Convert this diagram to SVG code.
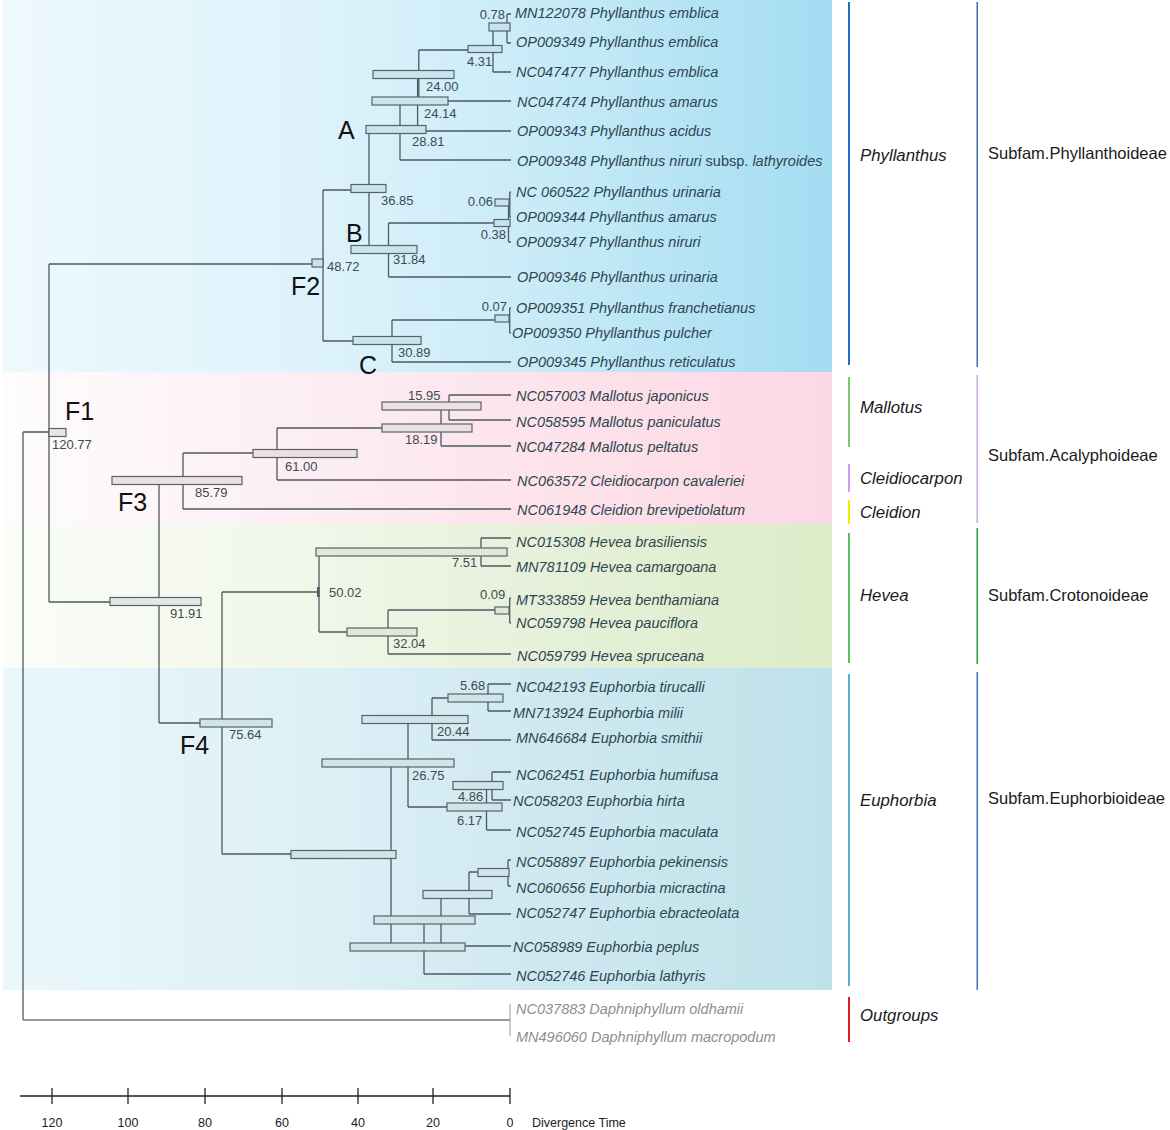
<svg xmlns="http://www.w3.org/2000/svg" width="1170" height="1130" viewBox="0 0 1170 1130">
<defs>
<linearGradient id="gPhy" x1="0" y1="0" x2="1" y2="0"><stop offset="0" stop-color="#eef9fd"/><stop offset="0.4" stop-color="#dcf2fb"/><stop offset="0.65" stop-color="#c8ebf7"/><stop offset="1" stop-color="#a4dcf2"/></linearGradient>
<linearGradient id="gAca" x1="0" y1="0" x2="1" y2="0"><stop offset="0" stop-color="#fefcfd"/><stop offset="0.4" stop-color="#fcedf2"/><stop offset="0.65" stop-color="#fde3eb"/><stop offset="1" stop-color="#fcd8e4"/></linearGradient>
<linearGradient id="gHev" x1="0" y1="0" x2="1" y2="0"><stop offset="0" stop-color="#fbfdf8"/><stop offset="0.4" stop-color="#f0f6e8"/><stop offset="0.65" stop-color="#e6f0da"/><stop offset="1" stop-color="#dcecc8"/></linearGradient>
<linearGradient id="gEup" x1="0" y1="0" x2="1" y2="0"><stop offset="0" stop-color="#eaf7fb"/><stop offset="0.4" stop-color="#dcf0f6"/><stop offset="0.65" stop-color="#cfe8f0"/><stop offset="1" stop-color="#bfe2ea"/></linearGradient>
</defs>
<style>
.br{fill:none;stroke:#4d5a60;stroke-width:1.3}
.bx{stroke:#56646a;stroke-width:1.2}
.bp{fill:#c8e4ee}.bk{fill:#eddfe4}.bg{fill:#e6e6e6}.bh{fill:#e0e8d6}.be{fill:#d0e4ea}
.tip{font-family:"Liberation Sans",Arial,sans-serif;font-size:14.5px;font-style:italic;fill:#2e4650}
.og{fill:#8e8e8e}
.age{font-family:"Liberation Sans",Arial,sans-serif;font-size:13px;fill:#3e4a50}
.big{font-family:"Liberation Sans",Arial,sans-serif;font-size:25px;fill:#111}
.gen{font-family:"Liberation Sans",Arial,sans-serif;font-size:16.8px;font-style:italic;fill:#1a1a1a}
.sub{font-family:"Liberation Sans",Arial,sans-serif;font-size:16.5px;fill:#1a1a1a}
.ax{font-family:"Liberation Sans",Arial,sans-serif;font-size:12.5px;fill:#222}
.up{font-style:normal}
</style>
<rect width="1170" height="1130" fill="#ffffff"/>
<g id="bands">
<rect x="3" y="0" width="829" height="372" fill="url(#gPhy)"/>
<rect x="3" y="372" width="829" height="152" fill="url(#gAca)"/>
<rect x="3" y="524" width="829" height="144" fill="url(#gHev)"/>
<rect x="3" y="668" width="829" height="322" fill="url(#gEup)"/>
</g>
<g id="connectors">
<path class="br" d="M23 432V1020M23 432H49"/>
<path d="M23 1020H510" fill="none" stroke="#777" stroke-width="1.3"/>
<path d="M510 1004V1036" fill="none" stroke="#aaa" stroke-width="1.2"/>
<path class="br" d="M49 264V602M49 264H323M49 602H159"/>
<path class="br" d="M323 190V341M323 190H369M323 341H392"/>
<path class="br" d="M369 131V249.5M369 131H400M369 249.5H388.5"/>
<path class="br" d="M400 103V160M400 103H418M400 160H511"/>
<path class="br" d="M417.6 75V131M417.6 131H511"/>
<path class="br" d="M418.8 50V101M418.8 50H493M418.8 101H511"/>
<path class="br" d="M493 28V72M493 28H507M493 72H511"/>
<path class="br" d="M507 14V43M507 14H511M507 43H511"/>
<path class="br" d="M388.5 223V277M388.5 223H508.5M388.5 277H511"/>
<path class="br" d="M508.5 204V242M508.5 242H511M508.5 204H509.8"/>
<path class="br" d="M509.8 192V217M509.8 192H511M509.8 217H511"/>
<path class="br" d="M392 320V362M392 320H509.7M392 362H511"/>
<path class="br" d="M509.7 308V333M509.7 308H511M509.7 333H511"/>
<path class="br" d="M159 481V723M159 481H183M159 723H222"/>
<path class="br" d="M183 453V509M183 453H277M183 509H511"/>
<path class="br" d="M277 428V480M277 428H441M277 480H511"/>
<path class="br" d="M441 407.5V446M441 407.5H449M441 446H511"/>
<path class="br" d="M449 395V420M449 395H511M449 420H511"/>
<path class="br" d="M222 592V854M222 592H319M222 854H391"/>
<path class="br" d="M319 552V632M319 552H481M319 632H388"/>
<path class="br" d="M481 538V566M481 538H511M481 566H511"/>
<path class="br" d="M388 610V654M388 610H509.7M388 654H511"/>
<path class="br" d="M509.7 598V623M509.7 598H511M509.7 623H511"/>
<path class="br" d="M391 763V947M391 763H408M391 947H424"/>
<path class="br" d="M408 719V807M408 719H432M408 807H486.5"/>
<path class="br" d="M432 698V740M432 698H488M432 740H511"/>
<path class="br" d="M488 684V711M488 684H511M488 711H511"/>
<path class="br" d="M486.5 786V830M486.5 786H492M486.5 830H511"/>
<path class="br" d="M492 772V800M492 772H511M492 800H511"/>
<path class="br" d="M424 920V974M424 920H441M424 974H511"/>
<path class="br" d="M441 893V946M441 893H469M441 946H511"/>
<path class="br" d="M469 872V914M469 872H508M469 914H511"/>
<path class="br" d="M508 860V886M508 860H511M508 886H511"/>
</g>
<g id="node-F1"><rect class="bx bg" x="49" y="428.5" width="17" height="8"/><text class="age" x="52" y="449">120.77</text><text class="big" x="65" y="420">F1</text></g>
<g id="node-F2"><rect class="bx bp" x="312" y="259" width="11" height="8"/><text class="age" x="327" y="271">48.72</text><text class="big" x="291" y="295">F2</text></g>
<g id="node-3685"><rect class="bx bp" x="351" y="184.5" width="35" height="8"/><text class="age" x="381" y="205">36.85</text></g>
<g id="node-A"><rect class="bx bp" x="366" y="125.5" width="60" height="8"/><text class="age" x="412" y="146">28.81</text><text class="big" x="338" y="139">A</text></g>
<g id="node-2414"><rect class="bx bp" x="372" y="97" width="76" height="8"/><text class="age" x="424" y="118">24.14</text></g>
<g id="node-2400"><rect class="bx bp" x="373" y="70.5" width="81" height="8"/><text class="age" x="426" y="91">24.00</text></g>
<g id="node-431"><rect class="bx bp" x="468" y="45.5" width="34" height="7"/><text class="age" x="467" y="66">4.31</text></g>
<g id="node-078"><rect class="bx bp" x="489" y="23" width="21" height="8"/><text class="age" x="505" y="19" text-anchor="end">0.78</text></g>
<g id="node-B"><rect class="bx bp" x="351" y="245.5" width="66" height="8"/><text class="age" x="393" y="264">31.84</text><text class="big" x="346" y="242">B</text></g>
<g id="node-038"><rect class="bx bp" x="494" y="219.5" width="16" height="7"/><text class="age" x="506" y="239" text-anchor="end">0.38</text></g>
<g id="node-006"><rect class="bx bp" x="495" y="199" width="14" height="7"/><text class="age" x="493" y="206" text-anchor="end">0.06</text></g>
<g id="node-C"><rect class="bx bp" x="353" y="336.5" width="68" height="8"/><text class="age" x="398" y="357">30.89</text><text class="big" x="359" y="374">C</text></g>
<g id="node-007"><rect class="bx bp" x="495" y="315" width="14" height="7"/><text class="age" x="507" y="311" text-anchor="end">0.07</text></g>
<g id="node-9191"><rect class="bx bg" x="110" y="597.5" width="91" height="8"/><text class="age" x="170" y="618">91.91</text></g>
<g id="node-F3"><rect class="bx bk" x="112" y="476.5" width="130" height="8"/><text class="age" x="195" y="497">85.79</text><text class="big" x="118" y="511">F3</text></g>
<g id="node-6100"><rect class="bx bk" x="253" y="449.5" width="104" height="8"/><text class="age" x="285" y="471">61.00</text></g>
<g id="node-1819"><rect class="bx bk" x="382" y="424" width="90" height="8"/><text class="age" x="405" y="444">18.19</text></g>
<g id="node-1595"><rect class="bx bk" x="382" y="402" width="99" height="8"/><text class="age" x="408" y="400">15.95</text></g>
<g id="node-F4"><rect class="bx be" x="200" y="719" width="72" height="8"/><text class="age" x="229" y="739">75.64</text><text class="big" x="180" y="754">F4</text></g>
<g id="node-5002"><rect x="317" y="587" width="2.5" height="10" fill="#4d5a60"/><text class="age" x="329" y="597">50.02</text></g>
<g id="node-751"><rect class="bx bh" x="316" y="548" width="191" height="8"/><text class="age" x="452" y="567">7.51</text></g>
<g id="node-3204"><rect class="bx bh" x="347" y="628" width="70" height="8"/><text class="age" x="393" y="648">32.04</text></g>
<g id="node-009"><rect class="bx bh" x="495" y="607" width="14" height="7"/><text class="age" x="480" y="599">0.09</text></g>
<g id="node-Eup"><rect class="bx be" x="291" y="850.5" width="105" height="8"/></g>
<g id="node-2675"><rect class="bx be" x="322" y="759" width="132" height="8"/><text class="age" x="412" y="780">26.75</text></g>
<g id="node-2044"><rect class="bx be" x="362" y="715.5" width="106" height="8"/><text class="age" x="437" y="736">20.44</text></g>
<g id="node-568"><rect class="bx be" x="448" y="694" width="55" height="8"/><text class="age" x="460" y="690">5.68</text></g>
<g id="node-617"><rect class="bx be" x="447" y="803" width="55" height="8"/><text class="age" x="457" y="825">6.17</text></g>
<g id="node-486"><rect class="bx be" x="453" y="781.5" width="50" height="8"/><text class="age" x="458" y="801">4.86</text></g>
<g id="node-Z"><rect class="bx be" x="350" y="943" width="115" height="8"/></g>
<g id="node-Y"><rect class="bx be" x="374" y="916" width="101" height="8"/></g>
<g id="node-X"><rect class="bx be" x="423" y="890.5" width="69" height="8"/></g>
<g id="node-P"><rect class="bx be" x="478" y="868.5" width="31" height="8"/></g>
<g id="tips">
<text class="tip" x="515" y="18">MN122078 Phyllanthus emblica</text>
<text class="tip" x="516" y="47">OP009349 Phyllanthus emblica</text>
<text class="tip" x="516" y="77">NC047477 Phyllanthus emblica</text>
<text class="tip" x="517" y="107">NC047474 Phyllanthus amarus</text>
<text class="tip" x="517" y="136">OP009343 Phyllanthus acidus</text>
<text class="tip" x="517" y="166">OP009348 Phyllanthus niruri<tspan class="up"> subsp. </tspan>lathyroides</text>
<text class="tip" x="516" y="197">NC 060522 Phyllanthus urinaria</text>
<text class="tip" x="516" y="222">OP009344 Phyllanthus amarus</text>
<text class="tip" x="516" y="247">OP009347 Phyllanthus niruri</text>
<text class="tip" x="517" y="282">OP009346 Phyllanthus urinaria</text>
<text class="tip" x="516" y="313">OP009351 Phyllanthus franchetianus</text>
<text class="tip" x="512" y="338">OP009350 Phyllanthus pulcher</text>
<text class="tip" x="517" y="367">OP009345 Phyllanthus reticulatus</text>
<text class="tip" x="516" y="401">NC057003 Mallotus japonicus</text>
<text class="tip" x="516" y="427">NC058595 Mallotus paniculatus</text>
<text class="tip" x="516" y="452">NC047284 Mallotus peltatus</text>
<text class="tip" x="517" y="486">NC063572 Cleidiocarpon cavaleriei</text>
<text class="tip" x="517" y="515">NC061948 Cleidion brevipetiolatum</text>
<text class="tip" x="516" y="547">NC015308 Hevea brasiliensis</text>
<text class="tip" x="516" y="572">MN781109 Hevea camargoana</text>
<text class="tip" x="516" y="605">MT333859 Hevea benthamiana</text>
<text class="tip" x="516" y="628">NC059798 Hevea pauciflora</text>
<text class="tip" x="517" y="661">NC059799 Hevea spruceana</text>
<text class="tip" x="516" y="692">NC042193 Euphorbia tirucalli</text>
<text class="tip" x="513" y="718">MN713924 Euphorbia milii</text>
<text class="tip" x="516" y="743">MN646684 Euphorbia smithii</text>
<text class="tip" x="516" y="780">NC062451 Euphorbia humifusa</text>
<text class="tip" x="513" y="806">NC058203 Euphorbia hirta</text>
<text class="tip" x="516" y="837">NC052745 Euphorbia maculata</text>
<text class="tip" x="516" y="867">NC058897 Euphorbia pekinensis</text>
<text class="tip" x="516" y="893">NC060656 Euphorbia micractina</text>
<text class="tip" x="516" y="918">NC052747 Euphorbia ebracteolata</text>
<text class="tip" x="513" y="952">NC058989 Euphorbia peplus</text>
<text class="tip" x="516" y="981">NC052746 Euphorbia lathyris</text>
<text class="tip og" x="516" y="1014">NC037883 Daphniphyllum oldhamii</text>
<text class="tip og" x="516" y="1042">MN496060 Daphniphyllum macropodum</text>
</g>
<g id="genus-legend">
<rect x="848" y="2" width="2" height="363" fill="#1f6fc8"/>
<text class="gen" x="860" y="161">Phyllanthus</text>
<rect x="848" y="377" width="2" height="70" fill="#7dc870"/>
<text class="gen" x="860" y="413">Mallotus</text>
<rect x="848" y="464" width="2" height="28" fill="#c9a0f0"/>
<text class="gen" x="860" y="484">Cleidiocarpon</text>
<rect x="848" y="500" width="2" height="24" fill="#f0ec00"/>
<text class="gen" x="860" y="518">Cleidion</text>
<rect x="848" y="533" width="2" height="130" fill="#5cc060"/>
<text class="gen" x="860" y="601">Hevea</text>
<rect x="848" y="674" width="2" height="312" fill="#5ab0d0"/>
<text class="gen" x="860" y="806">Euphorbia</text>
<rect x="848" y="997" width="2" height="45" fill="#e02020"/>
<text class="gen" x="860" y="1021">Outgroups</text>
</g>
<g id="subfamily-legend">
<rect x="976.5" y="2" width="1.5" height="365" fill="#3a6ea8"/>
<text class="sub" x="988" y="159">Subfam.Phyllanthoideae</text>
<rect x="976.5" y="375" width="1.5" height="148" fill="#c8aadc"/>
<text class="sub" x="988" y="461">Subfam.Acalyphoideae</text>
<rect x="976.5" y="528" width="1.5" height="136" fill="#2e9a3a"/>
<text class="sub" x="988" y="601">Subfam.Crotonoideae</text>
<rect x="976.5" y="672" width="1.5" height="318" fill="#3f74b8"/>
<text class="sub" x="988" y="804">Subfam.Euphorbioideae</text>
</g>
<g id="axis">
<path d="M20 1096H510M52 1088V1104M128 1088V1104M205 1088V1104M282 1088V1104M358 1088V1104M433 1088V1104M510 1088V1104" fill="none" stroke="#222" stroke-width="1.3"/>
<text class="ax" x="52" y="1127" text-anchor="middle">120</text>
<text class="ax" x="128" y="1127" text-anchor="middle">100</text>
<text class="ax" x="205" y="1127" text-anchor="middle">80</text>
<text class="ax" x="282" y="1127" text-anchor="middle">60</text>
<text class="ax" x="358" y="1127" text-anchor="middle">40</text>
<text class="ax" x="433" y="1127" text-anchor="middle">20</text>
<text class="ax" x="510" y="1127" text-anchor="middle">0</text>
<text class="ax" x="532" y="1127">Divergence Time</text>
</g>
</svg>
